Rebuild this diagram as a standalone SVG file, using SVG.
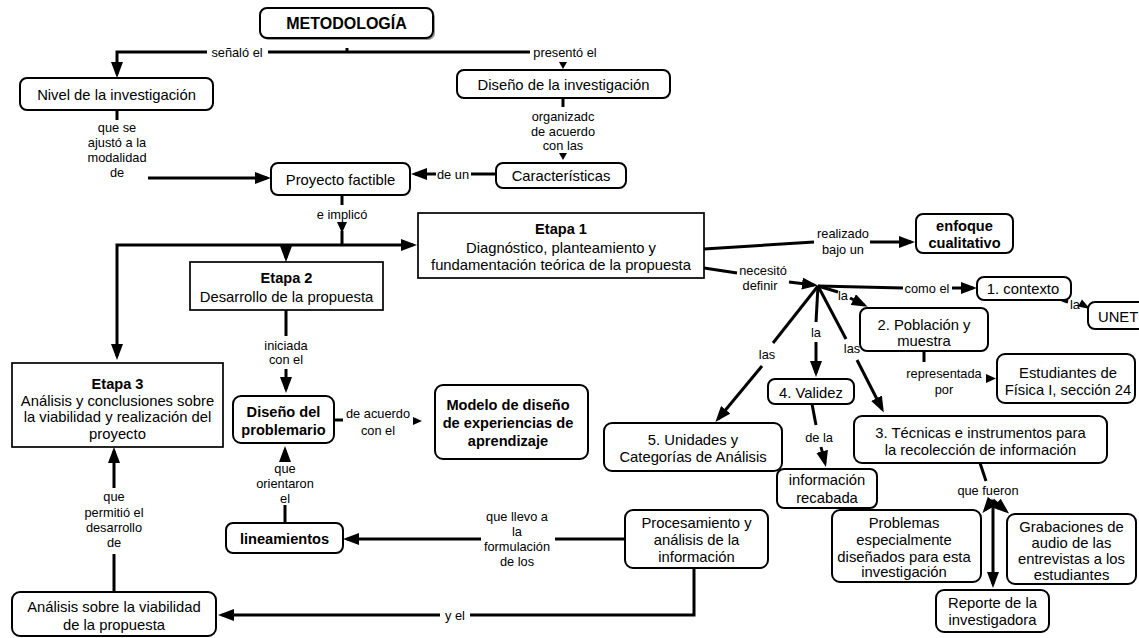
<svg xmlns="http://www.w3.org/2000/svg" width="1139" height="638" viewBox="0 0 1139 638">
<style>
text{font-family:"Liberation Sans",Arial,sans-serif;fill:#000;text-anchor:middle}
.n{font-size:14.8px}
.b{font-size:14.6px;font-weight:bold}
.l{font-size:12.8px}
.r{fill:#fff;stroke:#000;stroke-width:2}
.q{fill:#fff;stroke:#000;stroke-width:1.7}
.c{fill:none;stroke:#000;stroke-width:3}
.ah{fill:#000}
</style>
<defs>
<marker id="a" markerUnits="userSpaceOnUse" viewBox="0 0 16 12" markerWidth="16" markerHeight="12" refX="12" refY="6" orient="auto"><path d="M0,0 L16,6 L0,12 z"/></marker>
</defs>
<rect width="1139" height="638" fill="#fff"/>

<g id="connectors">
  <!-- top -->
  <path class="c" d="M347,48 V52"/>
  <path class="c" d="M268,52 H530"/>
  <path class="c" d="M207,52 H117 V74" marker-end="url(#a)"/>
  <text class="l" x="237" y="56.5">señaló el</text>
  <text class="l" x="565" y="56.5">presentó el</text>
  <polygon class="ah" points="559,62 567,62 563,69"/>
  <!-- Nivel -> Proyecto -->
  <path class="c" d="M117,110 V120"/>
  <text class="l" x="117" y="132">que se</text>
  <text class="l" x="117" y="147">ajustó a la</text>
  <text class="l" x="117" y="162">modalidad</text>
  <text class="l" x="117" y="177">de</text>
  <path class="c" d="M148,178 H267" marker-end="url(#a)"/>
  <!-- Diseño -> Características -->
  <path class="c" d="M563,98 V107"/>
  <text class="l" x="563" y="121">organizadc</text>
  <text class="l" x="563" y="135.5">de acuerdo</text>
  <text class="l" x="563" y="150">con las</text>
  <polygon class="ah" points="559,153 567,153 563,160"/>
  <!-- Características -> Proyecto -->
  <path class="c" d="M496,174 H471"/>
  <text class="l" x="453" y="178.5">de un</text>
  <path class="c" d="M436,174 H415" marker-end="url(#a)"/>
  <!-- Proyecto -> etapas -->
  <path class="c" d="M342,195 V205"/>
  <text class="l" x="342" y="218.5">e implicó</text>
  <polygon class="ah" points="337,222 347,222 342,233"/>
  <path class="c" d="M342,231 V245"/>
  <path class="c" d="M342,245 H413" marker-end="url(#a)"/>
  <path class="c" d="M342,245 H117 V356" marker-end="url(#a)"/>
  <path class="c" d="M286,245 V258" marker-end="url(#a)"/>
  <!-- Etapa 2 -> Diseño del problemario -->
  <path class="c" d="M286,310 V336"/>
  <text class="l" x="286" y="349.5">iniciada</text>
  <text class="l" x="286" y="363.5">con el</text>
  <path class="c" d="M286,369 V389" marker-end="url(#a)"/>
  <!-- Diseño del problemario -> Modelo -->
  <path class="c" d="M334,420 H343"/>
  <text class="l" x="378" y="418">de acuerdo</text>
  <text class="l" x="378" y="435">con el</text>
  <polygon class="ah" points="413,417 413,425 422,421"/>
  <!-- lineamientos -> Diseño del problemario -->
  <path class="c" d="M285,523 V505"/>
  <text class="l" x="285" y="473">que</text>
  <text class="l" x="285" y="488">orientaron</text>
  <text class="l" x="285" y="503">el</text>
  <path class="c" d="M285,461 V450" marker-end="url(#a)"/>
  <!-- Procesamiento -> lineamientos -->
  <path class="c" d="M625,539 H555"/>
  <text class="l" x="517" y="521">que llevo a</text>
  <text class="l" x="517" y="536">la</text>
  <text class="l" x="517" y="551">formulación</text>
  <text class="l" x="517" y="566">de los</text>
  <path class="c" d="M481,539 H347" marker-end="url(#a)"/>
  <!-- Procesamiento -> Análisis -->
  <path class="c" d="M694,568 V615 H470"/>
  <text class="l" x="455" y="619.5">y el</text>
  <path class="c" d="M440,615 H222" marker-end="url(#a)"/>
  <!-- Análisis -> Etapa 3 -->
  <path class="c" d="M114,592 V554"/>
  <text class="l" x="114" y="500.5">que</text>
  <text class="l" x="114" y="516.5">permitió el</text>
  <text class="l" x="114" y="531.5">desarrollo</text>
  <text class="l" x="114" y="546.5">de</text>
  <path class="c" d="M114,488 V451" marker-end="url(#a)"/>
  <!-- Etapa 1 -> enfoque -->
  <path class="c" d="M704,249 L814,242"/>
  <text class="l" x="843" y="238">realizado</text>
  <text class="l" x="843" y="253.5">bajo un</text>
  <path class="c" d="M870,242 H911" marker-end="url(#a)"/>
  <!-- Etapa 1 -> hub -->
  <path class="c" d="M704,268 L737,273"/>
  <text class="l" x="763" y="275">necesitó</text>
  <text class="l" x="760" y="289.5">definir</text>
  <path class="c" d="M789,282 L814,285" marker-end="url(#a)"/>
  <!-- hub -> contexto -->
  <path class="c" d="M818,286 L903,288"/>
  <text class="l" x="927" y="292.5">como el</text>
  <path class="c" d="M952,288 H973" marker-end="url(#a)"/>
  <!-- contexto -> UNET -->
  <path class="c" d="M1062,300 L1068,302"/>
  <text class="l" x="1075" y="309">la</text>
  <polygon class="ah" points="1090,309 1078,306.5 1082,299.5"/>
  <!-- hub -> Población -->
  <path class="c" d="M818,286 L838,292"/>
  <text class="l" x="843" y="300">la</text>
  <path class="c" d="M850,298 L864,305" marker-end="url(#a)"/>
  <!-- hub -> Validez -->
  <path class="c" d="M818,286 L816,322"/>
  <text class="l" x="816" y="336.5">la</text>
  <path class="c" d="M816,342 V373" marker-end="url(#a)"/>
  <!-- hub -> Técnicas -->
  <path class="c" d="M818,286 L846,339"/>
  <text class="l" x="852" y="353">las</text>
  <path class="c" d="M857,360 L882,409" marker-end="url(#a)"/>
  <!-- hub -> Unidades -->
  <path class="c" d="M818,286 L773,343"/>
  <text class="l" x="767" y="358.5">las</text>
  <path class="c" d="M762,366 L718,419" marker-end="url(#a)"/>
  <!-- Validez -> información recabada -->
  <path class="c" d="M812,404 L816,425"/>
  <text class="l" x="819" y="441.5">de la</text>
  <path class="c" d="M821,447 L825,463" marker-end="url(#a)"/>
  <!-- Población -> Estudiantes -->
  <path class="c" d="M924,351 V362"/>
  <text class="l" x="944" y="377.5">representada</text>
  <text class="l" x="944" y="394">por</text>
  <polygon class="ah" points="986,374 986,383 996,378.5"/>
  <!-- Técnicas -> que fueron -->
  <path class="c" d="M980,463 L986,481"/>
  <text class="l" x="988" y="494.5">que fueron</text>
  <path class="c" d="M993,500 L985,510" marker-end="url(#a)"/>
  <path class="c" d="M993,500 L1006,511" marker-end="url(#a)"/>
  <path class="c" d="M993,500 V584" marker-end="url(#a)"/>
</g>

<g id="n-metodologia">
  <rect x="262" y="10" width="173" height="30" rx="7" fill="#999"/>
  <rect class="r" x="260" y="8" width="173" height="30" rx="7"/>
  <text x="346.5" y="29" style="font-size:16px;font-weight:bold">METODOLOGÍA</text>
</g>
<g id="n-nivel">
  <rect class="r" x="20" y="78" width="193" height="32" rx="7"/>
  <text class="n" x="116.5" y="99.5">Nivel de la investigación</text>
</g>
<g id="n-diseno">
  <rect class="r" x="457" y="70" width="213" height="28" rx="7"/>
  <text class="n" x="563.5" y="89.5">Diseño de la investigación</text>
</g>
<g id="n-proyecto">
  <rect class="r" x="271" y="163" width="139" height="32" rx="7"/>
  <text class="n" x="340.5" y="184.5">Proyecto factible</text>
</g>
<g id="n-caracteristicas">
  <rect class="r" x="496" y="163" width="130" height="25" rx="7"/>
  <text class="n" x="561" y="180.5">Características</text>
</g>
<g id="n-etapa1">
  <rect class="q" x="418" y="213" width="286" height="65"/>
  <text class="b" x="561" y="234">Etapa 1</text>
  <text class="n" x="561" y="252.5">Diagnóstico, planteamiento y</text>
  <text class="n" x="561" y="270">fundamentación teórica de la propuesta</text>
</g>
<g id="n-etapa2">
  <rect class="q" x="190" y="262" width="193" height="48"/>
  <text class="b" x="286.5" y="283">Etapa 2</text>
  <text class="n" x="286.5" y="301.5">Desarrollo de la propuesta</text>
</g>
<g id="n-etapa3">
  <rect class="q" x="12" y="363" width="211" height="84"/>
  <text class="b" x="117.5" y="389">Etapa 3</text>
  <text class="n" x="117.5" y="405.5">Análisis y conclusiones sobre</text>
  <text class="n" x="117.5" y="422">la viabilidad y realización del</text>
  <text class="n" x="117.5" y="438.5">proyecto</text>
</g>
<g id="n-problemario">
  <rect class="r" x="233" y="396" width="101" height="47" rx="8"/>
  <text class="b" x="283.5" y="417">Diseño del</text>
  <text class="b" x="283.5" y="435">problemario</text>
</g>
<g id="n-modelo">
  <rect class="r" x="435" y="385" width="153" height="74" rx="8"/>
  <text class="b" x="508" y="410">Modelo de diseño</text>
  <text class="b" x="508" y="428">de experiencias de</text>
  <text class="b" x="508" y="446">aprendizaje</text>
</g>
<g id="n-lineamientos">
  <rect class="r" x="226" y="523" width="117" height="30" rx="7"/>
  <text class="b" x="284.5" y="544">lineamientos</text>
</g>
<g id="n-analisis">
  <rect class="r" x="12" y="592" width="204" height="44" rx="8"/>
  <text class="n" x="114" y="612">Análisis sobre la viabilidad</text>
  <text class="n" x="114" y="630">de la propuesta</text>
</g>
<g id="n-enfoque">
  <rect class="r" x="916" y="214" width="97" height="39" rx="7"/>
  <text class="b" x="964.5" y="231">enfoque</text>
  <text class="b" x="964.5" y="248">cualitativo</text>
</g>
<g id="n-contexto">
  <rect class="r" x="977" y="277" width="94" height="23" rx="7"/>
  <text class="n" x="1023" y="293.5">1. contexto</text>
</g>
<g id="n-unet">
  <rect class="r" x="1088" y="302" width="62" height="27" rx="7"/>
  <text class="n" x="1098" y="322" style="text-anchor:start">UNET</text>
</g>
<g id="n-poblacion">
  <rect class="r" x="860" y="308" width="128" height="43" rx="7"/>
  <text class="n" x="924" y="330">2. Población y</text>
  <text class="n" x="924" y="346">muestra</text>
</g>
<g id="n-estudiantes">
  <rect class="r" x="997" y="354" width="138" height="49" rx="8"/>
  <text class="n" x="1068" y="378">Estudiantes de</text>
  <text class="n" x="1068" y="395">Física I, sección 24</text>
</g>
<g id="n-validez">
  <rect class="r" x="768" y="379" width="86" height="25" rx="7"/>
  <text class="n" x="811" y="397.5">4. Validez</text>
</g>
<g id="n-informacion">
  <rect class="r" x="777" y="469" width="100" height="39" rx="7"/>
  <text class="n" x="827" y="485">información</text>
  <text class="n" x="827" y="503">recabada</text>
</g>
<g id="n-unidades">
  <rect class="r" x="604" y="423" width="178" height="48" rx="8"/>
  <text class="n" x="693" y="445">5. Unidades y</text>
  <text class="n" x="693" y="462">Categorías de Análisis</text>
</g>
<g id="n-procesamiento">
  <rect class="r" x="625" y="510" width="143" height="58" rx="8"/>
  <text class="n" x="696.5" y="528">Procesamiento y</text>
  <text class="n" x="696.5" y="545">análisis de la</text>
  <text class="n" x="696.5" y="562">información</text>
</g>
<g id="n-tecnicas">
  <rect class="r" x="854" y="416" width="253" height="47" rx="8"/>
  <text class="n" x="980.5" y="438">3. Técnicas e instrumentos para</text>
  <text class="n" x="980.5" y="455">la recolección de información</text>
</g>
<g id="n-problemas">
  <rect class="r" x="832" y="510" width="149" height="72" rx="8"/>
  <text class="n" x="904" y="528">Problemas</text>
  <text class="n" x="904" y="545">especialmente</text>
  <text class="n" x="904" y="561.5">diseñados para esta</text>
  <text class="n" x="904" y="577">investigación</text>
</g>
<g id="n-grabaciones">
  <rect class="r" x="1007" y="514" width="129" height="70" rx="8"/>
  <text class="n" x="1071.5" y="532">Grabaciones de</text>
  <text class="n" x="1071.5" y="548">audio de las</text>
  <text class="n" x="1071.5" y="564">entrevistas a los</text>
  <text class="n" x="1071.5" y="579.5">estudiantes</text>
</g>
<g id="n-reporte">
  <rect class="r" x="936" y="590" width="113" height="42" rx="8"/>
  <text class="n" x="992.5" y="608">Reporte de la</text>
  <text class="n" x="992.5" y="624.5">investigadora</text>
</g>
</svg>
